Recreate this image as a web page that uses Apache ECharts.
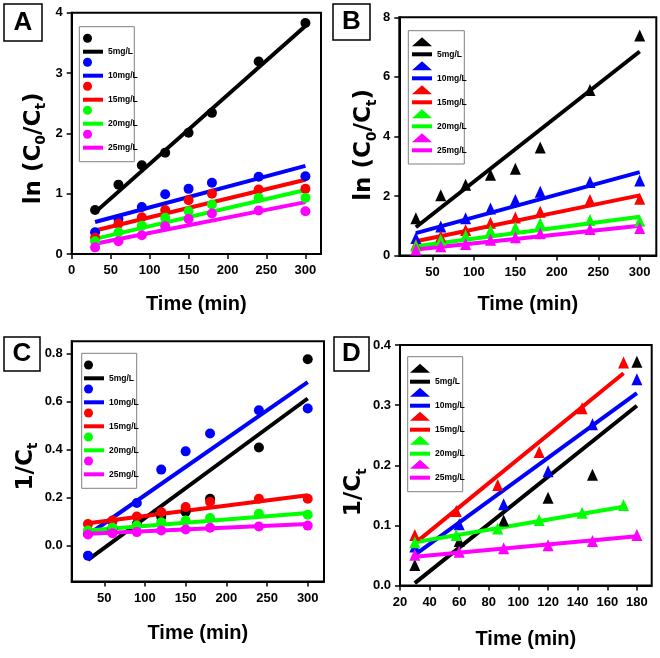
<!DOCTYPE html>
<html><head><meta charset="utf-8">
<script src="https://cdn.jsdelivr.net/npm/echarts@6/dist/echarts.min.js"></script>
<style>html,body{margin:0;padding:0;background:#fff}#c{width:660px;height:658px}</style>
</head><body><div id="c"></div>
<script>
// ---------- data ----------
const concLabels = ['5mg/L', '10mg/L', '15mg/L', '20mg/L', '25mg/L'];

// Panel A : ln(C0/Ct) vs time (circles)
const timeA = [30, 60, 90, 120, 150, 180, 240, 300];
const a5  = [0.73, 1.15, 1.47, 1.68, 2.01, 2.34, 3.19, 3.83];
const a10 = [0.36, 0.58, 0.78, 0.99, 1.08, 1.18, 1.28, 1.29];
const a15 = [0.27, 0.50, 0.61, 0.73, 0.89, 1.00, 1.07, 1.08];
const a20 = [0.21, 0.36, 0.47, 0.60, 0.71, 0.82, 0.93, 0.93];
const a25 = [0.11, 0.21, 0.31, 0.46, 0.58, 0.67, 0.72, 0.71];
const aFitX = [30, 300];
const aFitStart = [0.69, 0.53, 0.39, 0.25, 0.17];
const aFitEnd   = [3.78, 1.46, 1.23, 1.06, 0.86];

// Panel B : ln(C0/Ct) vs time (triangles)
const timeB = [30, 60, 90, 120, 150, 180, 240, 300];
const b5  = [1.25, 2.02, 2.38, 2.71, 2.91, 3.63, 5.56, 7.39];
const b10 = [0.59, 0.97, 1.25, 1.58, 1.86, 2.14, 2.47, 2.52];
const b15 = [0.37, 0.64, 0.86, 1.10, 1.28, 1.47, 1.86, 1.91];
const b20 = [0.33, 0.53, 0.67, 0.84, 0.94, 1.08, 1.19, 1.17];
const b25 = [0.20, 0.31, 0.39, 0.53, 0.61, 0.75, 0.89, 0.92];
const bFitX = [30, 300];
const bFitStart = [0.95, 0.75, 0.48, 0.31, 0.20];
const bFitEnd   = [6.85, 2.80, 2.02, 1.30, 1.00];

// Panel C : 1/Ct vs time (circles)
const timeC = [30, 60, 90, 120, 150, 180, 240, 300];
const c5  = [0.05, 0.07, 0.09, 0.12, 0.14, 0.195, 0.408, 0.775];
const c10 = [-0.042, 0.10, 0.177, 0.316, 0.392, 0.466, 0.563, 0.57];
const c15 = [0.09, 0.104, 0.121, 0.139, 0.16, 0.181, 0.195, 0.195];
const c20 = [0.063, 0.074, 0.083, 0.097, 0.104, 0.115, 0.132, 0.128];
const c25 = [0.046, 0.051, 0.056, 0.063, 0.067, 0.074, 0.079, 0.083];
const cFitX = [30, 300];
const cFitStart = [-0.06, 0.045, 0.093, 0.063, 0.049];
const cFitEnd   = [0.612, 0.68, 0.209, 0.135, 0.09];

// Panel D : 1/Ct vs time (triangles)
const timeD  = [30, 60, 90, 120, 150, 180];
const timeD2 = [30, 58, 86, 114, 143, 171];
const d5  = [0.034, 0.074, 0.108, 0.146, 0.184, 0.372];
const d10 = [0.065, 0.102, 0.135, 0.19, 0.268, 0.343];
const d15 = [0.084, 0.124, 0.167, 0.222, 0.295, 0.371];
const d20 = [0.072, 0.084, 0.095, 0.109, 0.121, 0.134];
const d25 = [0.051, 0.056, 0.062, 0.067, 0.074, 0.084];
const dFitX0 = [30, 30, 30, 30, 30];
const dFitX1 = [180, 180, 171, 171, 180];
const dFitStart = [0.004, 0.051, 0.07, 0.072, 0.048];
const dFitEnd   = [0.299, 0.32, 0.353, 0.131, 0.082];

// tick values
const ticksX300 = [0, 50, 100, 150, 200, 250, 300];
const ticksX300b = [50, 100, 150, 200, 250, 300];
const ticksX180 = [20, 40, 60, 80, 100, 120, 140, 160, 180];
const ticksYA = [0, 1, 2, 3, 4];
const ticksYB = [0, 2, 4, 6, 8];
const ticksYC = [0, 0.2, 0.4, 0.6, 0.8];
const ticksYD = [0, 0.1, 0.2, 0.3, 0.4];
const panelLetters = ['A', 'B', 'C', 'D'];

// ---------- styling / layout ----------
const colors = ['#000000', '#0000ff', '#ff0000', '#00ff00', '#ff00ff'];
const NARROW = "'Liberation Sans Narrow','Arial Narrow','Liberation Sans',Arial,sans-serif";
const WIDE = "'DejaVu Sans','Liberation Sans',sans-serif";

const panels = [
  { key: 'A', grid: {left: 71.7, top: 12.7, width: 249.3, height: 241.3},
    xmin: 0, xmax: 320, xticks: ticksX300, ymin: 0, ymax: 4, yticks: ticksYA, yfmt: v => String(v),
    xs: [timeA, timeA, timeA, timeA, timeA], ys: [a5, a10, a15, a20, a25],
    fx0: [30,30,30,30,30], fx1: [300,300,300,300,300], fy0: aFitStart, fy1: aFitEnd,
    symbol: 'circle', ssize: 10, yname: '{m|ln (C}{s|0}{m|/C}{s|t}{m|)}', ynameGap: 23, ypad: 30, xnameGap: 40,
    leg: {left: 83, top: 38.3, ltop: 51.7, box: [79.3, 26.7, 55, 135]} },
  { key: 'B', grid: {left: 399.3, top: 17.3, width: 257, height: 238.2},
    xmin: 10, xmax: 320, xticks: ticksX300b, ymin: 0, ymax: 8, yticks: ticksYB, yfmt: v => String(v),
    xs: [timeB, timeB, timeB, timeB, timeB], ys: [b5, b10, b15, b20, b25],
    fx0: [30,30,30,30,30], fx1: [300,300,300,300,300], fy0: bFitStart, fy1: bFitEnd,
    symbol: 'triangle', ssize: [11, 12], yname: '{m|ln (C}{s|0}{m|/C}{s|t}{m|)}', ynameGap: 16, ypad: 17, xnameGap: 38.5,
    leg: {left: 412, top: 41.7, ltop: 54.3, box: [408.3, 30.7, 56, 133.3]} },
  { key: 'C', grid: {left: 71.7, top: 341.3, width: 252.3, height: 240.3},
    xmin: 10, xmax: 320, xticks: ticksX300b, ymin: -0.15, ymax: 0.85, yticks: ticksYC, yfmt: v => v.toFixed(1),
    xs: [timeC, timeC, timeC, timeC, timeC], ys: [c5, c10, c15, c20, c25],
    fx0: [30,30,30,30,30], fx1: [300,300,300,300,300], fy0: cFitStart, fy1: cFitEnd,
    symbol: 'circle', ssize: 10, yname: '{m|1/C}{s|t}', ynameGap: 21, ypad: 10, xnameGap: 42,
    leg: {left: 84, top: 365, ltop: 378.3, box: [81.7, 353.3, 55, 135]} },
  { key: 'D', grid: {left: 400, top: 345, width: 251.7, height: 240.5},
    xmin: 20, xmax: 190, xticks: ticksX180, ymin: 0, ymax: 0.4, yticks: ticksYD, yfmt: v => v.toFixed(1),
    xs: [timeD, timeD, timeD2, timeD2, timeD], ys: [d5, d10, d15, d20, d25],
    fx0: dFitX0, fx1: dFitX1, fy0: dFitStart, fy1: dFitEnd,
    symbol: 'triangle', ssize: [11, 12], yname: '{m|1/C}{s|t}', ynameGap: 18, ypad: 54, xnameGap: 43.5,
    leg: {left: 410, top: 368.3, ltop: 381.7, box: [407.7, 356.7, 55, 135]} }
];

const grids = [], xAxes = [], yAxes = [], series = [], legends = [], graphics = [];
const tickLabelStyle = {fontSize: 13, fontWeight: 'bold', fontFamily: NARROW, color: '#000'};

panels.forEach((p, pi) => {
  grids.push(Object.assign({show: true, borderColor: '#000', borderWidth: 2, backgroundColor: 'transparent'}, p.grid));
  xAxes.push({
    type: 'value', gridIndex: pi, min: p.xmin, max: p.xmax,
    axisLine: {show: true, onZero: false, lineStyle: {color: '#000', width: 2}},
    axisTick: {show: true, inside: false, length: 5, lineStyle: {color: '#000', width: 1.5}, customValues: p.xticks},
    axisLabel: Object.assign({customValues: p.xticks, margin: 10}, tickLabelStyle),
    splitLine: {show: false},
    name: 'Time (min)', nameLocation: 'middle', nameGap: p.xnameGap,
    nameTextStyle: {fontSize: 20, fontWeight: 'bold', fontFamily: NARROW, color: '#000'}
  });
  yAxes.push({
    type: 'value', gridIndex: pi, min: p.ymin, max: p.ymax,
    axisLine: {show: true, onZero: false, lineStyle: {color: '#000', width: 2}},
    axisTick: {show: true, inside: false, length: 5, lineStyle: {color: '#000', width: 1.5}, customValues: p.yticks},
    axisLabel: Object.assign({customValues: p.yticks, margin: 9, formatter: p.yfmt}, tickLabelStyle),
    splitLine: {show: false},
    name: p.yname, nameLocation: 'middle', nameGap: p.ynameGap,
    nameTextStyle: {
      padding: [0, p.ypad, 0, 0],
      rich: {
        m: {fontSize: 23, fontWeight: 'bold', fontFamily: WIDE, color: '#000', lineHeight: 30, verticalAlign: 'middle'},
        s: {fontSize: 14, fontWeight: 'bold', fontFamily: WIDE, color: '#000', lineHeight: 14, verticalAlign: 'bottom'}
      }
    }
  });
  const scatterNames = [];
  concLabels.forEach((lab, i) => {
    const sname = p.key + ' ' + lab + ' data';
    scatterNames.push(sname);
    series.push({
      type: 'scatter', name: sname, xAxisIndex: pi, yAxisIndex: pi,
      symbol: p.symbol, symbolSize: p.ssize, itemStyle: {color: colors[i], opacity: 1},
      data: p.xs[i].map((x, j) => [x, p.ys[i][j]]), z: 3
    });
    series.push({
      type: 'line', name: lab, xAxisIndex: pi, yAxisIndex: pi,
      showSymbol: false, symbol: 'none', lineStyle: {color: colors[i], width: 4}, itemStyle: {color: colors[i]},
      data: [[p.fx0[i], p.fy0[i]], [p.fx1[i], p.fy1[i]]], z: 2
    });
  });
  legends.push({
    orient: 'vertical', left: p.leg.left, top: p.leg.top - 4.5, padding: 0,
    itemWidth: 20, itemHeight: 9, itemGap: 15, icon: p.symbol, selectedMode: false,
    data: scatterNames, formatter: () => '', textStyle: {fontSize: 9, lineHeight: 9}
  });
  legends.push({
    orient: 'vertical', left: p.leg.left, top: p.leg.ltop - 6, padding: 0,
    itemWidth: 20, itemHeight: 4, itemGap: 12, icon: 'rect', selectedMode: false,
    data: concLabels, textStyle: {fontSize: 8.5, fontWeight: 'bold', fontFamily: NARROW, color: '#000', lineHeight: 12}
  });
  const b = p.leg.box;
  graphics.push({type: 'rect', shape: {x: b[0], y: b[1], width: b[2], height: b[3]},
    style: {fill: 'none', stroke: '#7f7f7f', lineWidth: 1}, z: 1});
});

const letterBoxes = [[4, 4, 38, 37], [333, 4, 37, 36], [4, 337, 36, 34], [334, 337, 35, 34]];
panelLetters.forEach((L, i) => {
  const bx = letterBoxes[i];
  graphics.push({type: 'rect', shape: {x: bx[0], y: bx[1], width: bx[2], height: bx[3]},
    style: {fill: '#fff', stroke: '#000', lineWidth: 1.5}});
  graphics.push({type: 'text', x: bx[0] + bx[2] / 2, y: bx[1] + bx[3] / 2,
    style: {text: L, fontSize: 26, fontWeight: 'bold', fontFamily: "'Liberation Sans',Arial,sans-serif",
      fill: '#000', align: 'center', verticalAlign: 'middle'}});
});

const chart = echarts.init(document.getElementById('c'), null, {renderer: 'canvas'});
chart.setOption({
  animation: false,
  backgroundColor: '#fff',
  grid: grids, xAxis: xAxes, yAxis: yAxes, series: series, legend: legends,
  graphic: {elements: graphics}
});
</script></body></html>
